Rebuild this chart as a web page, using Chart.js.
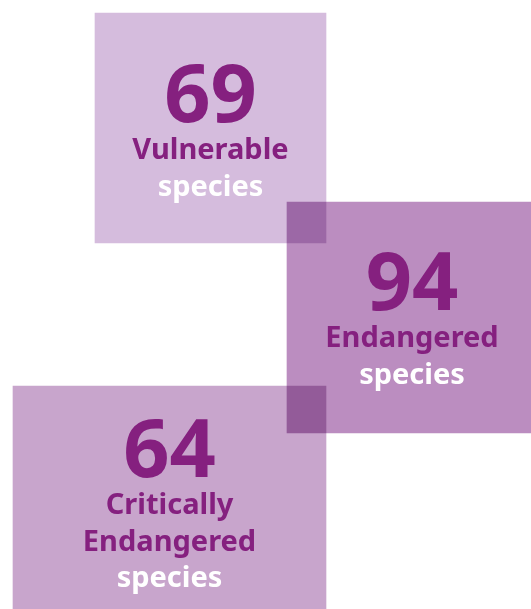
<!DOCTYPE html>
<html><head><meta charset="utf-8">
<script src="https://cdn.jsdelivr.net/npm/chart.js@4"></script>
<style>html,body{margin:0;padding:0;background:#fff;overflow:hidden}#wrap{width:531px;height:609px;position:relative}canvas{display:block}</style>
</head><body><div id="wrap"><canvas id="c" width="531" height="609"></canvas></div>
<script>
// ---- data ----
const categories = ['Vulnerable', 'Endangered', 'Critically Endangered'];
const counts = [69, 94, 64];
const labelLines = [['Vulnerable'], ['Endangered'], ['Critically', 'Endangered']];
const suffix = 'species';

// ---- layout (page pixels) ----
const panelLeft = [95, 287, 13];
const panelRight = [326, 531, 326];
const panelTop = [13, 202, 386];
const panelBottom = [243, 433, 609];
const textDx = [0, 3, 0];
const textDy = [1.75, 0.25, 5.5];
const panelColors = ['#d5bcdd', '#bb8dc0', '#c8a5cc'];
const numberColor = '#85207f';
const labelColor = '#85207f';
const suffixColor = '#ffffff';
const fontFamily = "'Noto Sans', 'Open Sans', sans-serif";

const datasets = categories.map((cat, i) => ({
  label: cat,
  data: [{ x: (panelLeft[i] + panelRight[i]) / 2, y: [panelTop[i], panelBottom[i]] }],
  barThickness: panelRight[i] - panelLeft[i],
  backgroundColor: panelColors[i],
  borderWidth: 0,
  stack: 'panels'
}));

const blendPlugin = {
  id: 'blend',
  beforeDatasetsDraw(chart) { chart.ctx.save(); chart.ctx.globalCompositeOperation = 'multiply'; },
  afterDatasetsDraw(chart) { chart.ctx.restore(); }
};

const textPlugin = {
  id: 'panelText',
  afterDraw(chart) {
    const ctx = chart.ctx;
    ctx.save();
    ctx.textAlign = 'center';
    ctx.textBaseline = 'alphabetic';
    categories.forEach((cat, i) => {
      const el = chart.getDatasetMeta(i).data[0];
      const p = el.getProps(['x', 'y', 'base'], true);
      const cx = p.x + textDx[i];
      const cy = (p.y + p.base) / 2;
      const numSize = 81, capH = 58;
      const lines = labelLines[i].concat([suffix]);
      const lineGap = 36.5;
      const blockH = capH + 37 + lineGap * (lines.length - 1);
      const top = cy + textDy[i] - blockH / 2;
      let base = top + capH;
      ctx.fillStyle = numberColor;
      ctx.font = `700 ${numSize}px ${fontFamily}`;
      ctx.fillText(String(counts[i]), cx, base);
      base += 37;
      ctx.font = `700 29px ${fontFamily}`;
      lines.forEach((ln, k) => {
        ctx.fillStyle = k === lines.length - 1 ? suffixColor : labelColor;
        ctx.fillText(ln, cx, base);
        base += lineGap;
      });
    });
    ctx.restore();
  }
};

new Chart(document.getElementById('c'), {
  type: 'bar',
  data: { datasets },
  options: {
    responsive: false,
    animation: false,
    devicePixelRatio: 1,
    layout: { padding: 0 },
    plugins: { legend: { display: false }, tooltip: { enabled: false }, title: { display: false } },
    scales: {
      x: { type: 'linear', min: 0, max: 531, display: false, offset: false, stacked: true },
      y: { type: 'linear', min: 0, max: 609, reverse: true, display: false, stacked: false }
    }
  },
  plugins: [blendPlugin, textPlugin]
});
</script>
</body></html>
